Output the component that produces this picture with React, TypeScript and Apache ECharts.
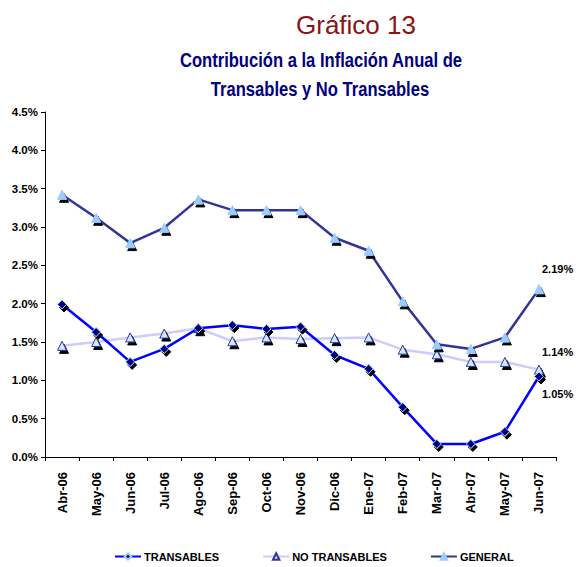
import React, { useEffect, useRef } from "react";
import * as echarts from "echarts";

const categories = ["Abr-06","May-06","Jun-06","Jul-06","Ago-06","Sep-06","Oct-06","Nov-06","Dic-06","Ene-07","Feb-07","Mar-07","Abr-07","May-07","Jun-07"];
const transables = [1.99,1.63,1.24,1.41,1.68,1.72,1.67,1.70,1.33,1.15,0.65,0.17,0.17,0.33,1.05];
const noTransables = [1.45,1.50,1.56,1.61,1.68,1.51,1.56,1.54,1.55,1.56,1.40,1.34,1.24,1.24,1.14];
const general = [3.42,3.12,2.79,2.99,3.36,3.22,3.22,3.22,2.86,2.69,2.03,1.47,1.41,1.56,2.19];
const yTicks = { min: 0, max: 4.5, interval: 0.5 };

const FONT = '"Liberation Sans", Arial, sans-serif';

export default function App() {
  const ref = useRef<HTMLDivElement>(null);
  useEffect(() => {
    if (!ref.current) return;
    const chart = echarts.init(ref.current, null, { renderer: "svg" });
    const last = categories.length - 1;
    const endLabel = (offsetY: number) => ({
      show: true,
      formatter: (p: any) => (p.dataIndex === last ? p.value.toFixed(2) + "%" : ""),
      position: "right",
      offset: [-7, offsetY],
      fontFamily: FONT,
      fontWeight: "bold",
      fontSize: 11,
      color: "#000",
    });
    const shadow = { shadowColor: "#000", shadowBlur: 0, shadowOffsetX: 2, shadowOffsetY: 3 };
    chart.setOption({
      animation: false,
      backgroundColor: "#fff",
      graphic: [
        {
          type: "text", x: 356, y: 25,
          style: { text: "Gráfico 13", fill: "#8b1414", font: `normal 26px ${FONT}`, textAlign: "center", textVerticalAlign: "middle" },
        },
        {
          type: "text", x: 321, y: 60, scaleX: 0.79,
          style: { text: "Contribución a la Inflación Anual de", fill: "#000080", font: `bold 21px ${FONT}`, textAlign: "center", textVerticalAlign: "middle" },
        },
        {
          type: "text", x: 320, y: 89, scaleX: 0.79,
          style: { text: "Transables y No Transables", fill: "#000080", font: `bold 21px ${FONT}`, textAlign: "center", textVerticalAlign: "middle" },
        },
      ],
      legend: {
        top: 546, left: 109, padding: 5,
        itemWidth: 26, itemHeight: 8, itemGap: 43,
        textStyle: { fontFamily: FONT, fontWeight: "bold", fontSize: 11, color: "#000", padding: [0, 0, 0, -2] },
        data: ["TRANSABLES", "NO TRANSABLES", "GENERAL"],
      },
      grid: { left: 45, right: 20, top: 112, bottom: 110 },
      xAxis: {
        type: "category",
        data: categories,
        boundaryGap: true,
        axisLine: { lineStyle: { color: "#000", width: 1 } },
        axisTick: { show: true, alignWithLabel: false, length: 4, lineStyle: { color: "#000" } },
        axisLabel: { rotate: 90, interval: 0, margin: 15, fontFamily: FONT, fontWeight: "bold", fontSize: 13, color: "#000" },
      },
      yAxis: {
        type: "value",
        min: yTicks.min, max: yTicks.max, interval: yTicks.interval,
        axisLine: { show: true, lineStyle: { color: "#000", width: 1 } },
        axisTick: { show: true, length: 4, lineStyle: { color: "#000" } },
        splitLine: { show: false },
        axisLabel: { formatter: (v: number) => v.toFixed(1) + "%", fontFamily: FONT, fontWeight: "bold", fontSize: 11.5, color: "#000", margin: 7 },
      },
      series: [
        {
          name: "TRANSABLES", type: "line", data: transables,
          symbol: "diamond", symbolSize: 9, showAllSymbol: true,
          lineStyle: { color: "#0000ff", width: 2.5 },
          itemStyle: { color: "#000080", borderColor: "#99ccff", borderWidth: 1, ...shadow },
          label: endLabel(17.5), z: 3,
        },
        {
          name: "NO TRANSABLES", type: "line", data: noTransables,
          symbol: "triangle", symbolSize: 9, showAllSymbol: true,
          lineStyle: { color: "#ccccff", width: 2.5 },
          itemStyle: { color: "#ccecff", borderColor: "#333399", borderWidth: 1, ...shadow },
          label: endLabel(-17.5), z: 2,
        },
        {
          name: "GENERAL", type: "line", data: general,
          symbol: "triangle", symbolSize: 9, showAllSymbol: true,
          lineStyle: { color: "#333399", width: 2.5 },
          itemStyle: { color: "#99ccff", borderColor: "#99ccff", borderWidth: 1, ...shadow },
          label: endLabel(-20), z: 2,
        },
      ],
    });
    return () => chart.dispose();
  }, []);
  return <div ref={ref} style={{ position: "absolute", left: 0, top: 0, width: 576, height: 567 }} />;
}
